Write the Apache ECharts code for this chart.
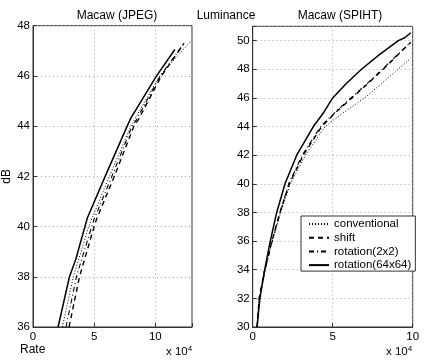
<!DOCTYPE html>
<html>
<head>
<meta charset="utf-8">
<script src="https://cdn.jsdelivr.net/npm/echarts@6/dist/echarts.min.js"></script>
<style>
  html, body { margin: 0; padding: 0; background: #fff; }
  #chart { width: 425px; height: 363px; }
</style>
</head>
<body>
<div id="chart"></div>
<script>
// 数据：[码率 (x 10^4), dB]
var seriesNames = ['conventional', 'shift', 'rotation(2x2)', 'rotation(64x64)']

// 左图 Macaw (JPEG)
var jpegConv = [[2.4, 36], [3.3, 38], [4.55, 40], [4.8, 40.3], [6.25, 42], [8.0, 44], [8.35, 44.3], [10.35, 46], [12.85, 47.35]]
var jpegShift = [[2.95, 36], [3.8, 38], [5.0, 40], [5.2, 40.3], [6.65, 42], [8.25, 44], [8.6, 44.25], [10.5, 46], [12.35, 47.3]]
var jpegRot2 = [[2.7, 36], [3.55, 38], [4.8, 40], [5.0, 40.3], [6.45, 42], [8.1, 44], [8.45, 44.25], [10.4, 46], [12.2, 47.2]]
var jpegRot64 = [[2.05, 36], [2.98, 38], [3.5, 38.7], [4.25, 40], [4.45, 40.35], [5.9, 42], [7.7, 44], [8.0, 44.32], [10.1, 46], [11.6, 47.05]]

// 右图 Macaw (SPIHT)
var spihtConv = [[0.28, 30], [0.42, 32], [0.78, 34], [1.22, 36], [1.75, 38], [2.35, 40], [3.3, 42], [4.52, 44], [5.7, 45], [7.0, 46], [8.05, 47], [9.08, 48], [9.88, 48.77]]
var spihtShift = [[0.28, 30], [0.4, 32], [0.75, 34], [1.2, 36], [1.7, 38], [2.29, 40], [3.16, 42], [4.31, 44], [5.2, 45], [6.2, 46], [7.2, 47], [8.15, 48], [9.88, 49.88]]
var spihtRot2 = [[0.28, 30], [0.42, 32], [0.78, 34], [1.22, 36], [1.72, 38], [2.25, 40], [3.1, 42], [4.25, 44], [5.15, 45], [6.15, 46], [7.15, 47], [8.1, 48], [9.88, 49.9]]
var spihtRot64 = [[0.27, 30], [0.45, 32], [0.75, 34], [1.1, 36], [1.5, 38], [2.02, 40], [2.75, 42], [3.79, 44], [3.95, 44.25], [4.45, 45], [5.0, 46], [5.85, 47], [6.8, 48], [7.9, 49], [9.1, 50], [9.5, 50.2], [9.88, 50.55]]

var fontFam = 'Liberation Sans, Arial, sans-serif'

var myChart = echarts.init(document.getElementById('chart'))

var lineStyles = [
  { color: '#000', width: 1, type: [1, 2] },
  { color: '#000', width: 1.4, type: [5, 4] },
  { color: '#000', width: 1.1, type: [5, 3, 1, 3] },
  { color: '#000', width: 1.5, type: 'solid' }
]

function makeSeries(name, data, idx, styleIdx) {
  return {
    name: name,
    type: 'line',
    xAxisIndex: idx,
    yAxisIndex: idx,
    data: data,
    symbol: 'none',
    smooth: false,
    animation: false,
    lineStyle: lineStyles[styleIdx],
    itemStyle: { color: '#000' }
  }
}

function xAxisCfg(idx, max) {
  return {
    type: 'value',
    gridIndex: idx,
    min: 0,
    max: max,
    interval: 5,
    axisLine: { show: true, onZero: false, lineStyle: { color: '#333', width: 1 } },
    axisTick: { show: true, inside: true, length: 4, lineStyle: { color: '#333' } },
    axisLabel: {
      color: '#000', fontSize: 11.5, fontFamily: fontFam, margin: 4,
      formatter: function (v) { return v % 5 === 0 ? v : '' }
    },
    splitLine: { show: true, lineStyle: { color: '#aaa', type: [1, 3], width: 1 } }
  }
}

function yAxisCfg(idx, min, max) {
  return {
    type: 'value',
    gridIndex: idx,
    min: min,
    max: max,
    interval: 2,
    axisLine: { show: true, onZero: false, lineStyle: { color: '#333', width: 1 } },
    axisTick: { show: true, inside: true, length: 4, lineStyle: { color: '#333' } },
    axisLabel: {
      color: '#000', fontSize: 11.5, fontFamily: fontFam, margin: 3,
      formatter: function (v) { return v % 2 === 0 ? v : '' }
    },
    splitLine: { show: true, lineStyle: { color: '#aaa', type: [1, 3], width: 1 } }
  }
}

var option = {
  backgroundColor: '#fff',
  animation: false,
  title: [
    { text: 'Macaw (JPEG)', left: 112, top: 5, textAlign: 'center', textStyle: { fontSize: 12, fontWeight: 'normal', color: '#000', fontFamily: fontFam } },
    { text: 'Luminance', left: 221, top: 5, textAlign: 'center', textStyle: { fontSize: 12, fontWeight: 'normal', color: '#000', fontFamily: fontFam } },
    { text: 'Macaw (SPIHT)', left: 335, top: 5, textAlign: 'center', textStyle: { fontSize: 12, fontWeight: 'normal', color: '#000', fontFamily: fontFam } }
  ],
  grid: [
    { left: 31.5, top: 25.7, width: 160.5, height: 301.3, show: true, borderColor: '#333', borderWidth: 1, backgroundColor: 'transparent' },
    { left: 252.7, top: 26.3, width: 160, height: 300.7, show: true, borderColor: '#333', borderWidth: 1, backgroundColor: 'transparent' }
  ],
  xAxis: [xAxisCfg(0, 13), xAxisCfg(1, 10)],
  yAxis: [
    Object.assign(yAxisCfg(0, 36, 48), {
      name: 'dB', nameLocation: 'middle', nameGap: 20, nameRotate: 90,
      nameTextStyle: { color: '#000', fontSize: 12, fontFamily: fontFam }
    }),
    yAxisCfg(1, 30, 51)
  ],
  legend: {
    data: seriesNames,
    orient: 'vertical',
    left: 301,
    top: 216,
    padding: [2, 4, 0, 7],
    itemGap: 1.7,
    itemWidth: 20,
    itemHeight: 10,
    itemStyle: { opacity: 0 },
    backgroundColor: '#fff',
    borderColor: '#333',
    borderWidth: 1,
    borderRadius: 0,
    textStyle: { color: '#000', fontSize: 11.5, fontFamily: fontFam },
    selectedMode: false
  },
  graphic: [
    { type: 'text', left: 20, top: 344, style: { text: 'Rate', fontSize: 12, fontFamily: fontFam, fill: '#000' } },
    {
      type: 'text', left: 166, top: 345,
      style: {
        text: 'x 10{s|4}', fontSize: 11.5, fontFamily: fontFam, fill: '#000',
        rich: { s: { fontSize: 8, fontFamily: fontFam, verticalAlign: 'top', padding: [0, 0, 6, 0] } }
      }
    },
    {
      type: 'text', left: 386, top: 345,
      style: {
        text: 'x 10{s|4}', fontSize: 11.5, fontFamily: fontFam, fill: '#000',
        rich: { s: { fontSize: 8, fontFamily: fontFam, verticalAlign: 'top', padding: [0, 0, 6, 0] } }
      }
    }
  ],
  series: [
    makeSeries(seriesNames[0], jpegConv, 0, 0),
    makeSeries(seriesNames[1], jpegShift, 0, 1),
    makeSeries(seriesNames[2], jpegRot2, 0, 2),
    makeSeries(seriesNames[3], jpegRot64, 0, 3),
    makeSeries(seriesNames[0], spihtConv, 1, 0),
    makeSeries(seriesNames[1], spihtShift, 1, 1),
    makeSeries(seriesNames[2], spihtRot2, 1, 2),
    makeSeries(seriesNames[3], spihtRot64, 1, 3)
  ]
}

myChart.setOption(option)
</script>
</body>
</html>
